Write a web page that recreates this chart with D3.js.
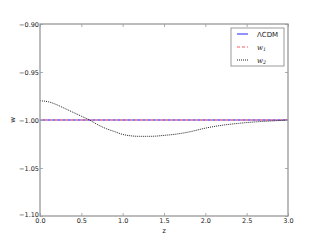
<!DOCTYPE html>
<html>
<head>
<meta charset="utf-8">
<script src="https://cdn.jsdelivr.net/npm/d3@7"></script>
<style>
  body { margin: 0; background: #fff; }
  svg { display: block; }
</style>
</head>
<body>
<div id="chart"></div>
<script>
// Data
const zVals = [0, 0.1, 0.2, 0.3, 0.4, 0.5, 0.6, 0.7, 0.8, 0.9, 1.0, 1.1, 1.2, 1.3, 1.4, 1.5, 1.6, 1.8, 2.0, 2.2, 2.4, 2.6, 2.8, 3.0];
const w2Vals = [-0.980, -0.981, -0.984, -0.988, -0.992, -0.996, -1.000, -1.005, -1.009, -1.012, -1.015, -1.0165, -1.017, -1.017, -1.0168, -1.016, -1.0152, -1.0125, -1.0085, -1.0055, -1.0035, -1.002, -1.001, -1.000];
const lcdmVals = zVals.map(() => -1.0);
const w1Vals = zVals.map(() => -1.0);
const xTicks = [0, 0.5, 1.0, 1.5, 2.0, 2.5, 3.0];
const yTicks = [-0.90, -0.95, -1.00, -1.05, -1.10];
const legendLabels = ["ΛCDM", "w1", "w2"];

function drawChart() {
  const width = 320, height = 240;
  const margin = { left: 40, right: 32, top: 24, bottom: 24 };
  const frameCol = "#999";

  const svg = d3.select("#chart").append("svg")
    .attr("width", width).attr("height", height);

  const x = d3.scaleLinear().domain([0, 3]).range([margin.left, width - margin.right]);
  const y = d3.scaleLinear().domain([-1.10, -0.90]).range([height - margin.bottom, margin.top]);

  // Series
  const series = [
    { vals: lcdmVals, color: "#5555ff", dash: null, width: 1.3 },
    { vals: w1Vals, color: "#ff9090", dash: "3,2", width: 1.5 },
    { vals: w2Vals, color: "#222", dash: "1,1", width: 1 }
  ];
  series.forEach((s) => {
    svg.append("path")
      .datum(zVals.map((z, i) => [z, s.vals[i]]))
      .attr("d", d3.line().curve(d3.curveMonotoneX).x((d) => x(d[0])).y((d) => y(d[1])))
      .attr("fill", "none")
      .attr("stroke", s.color)
      .attr("stroke-width", s.width)
      .attr("stroke-dasharray", s.dash);
  });

  // Axes with inward ticks
  const fontSize = 6.5;
  const xAxis = svg.append("g")
    .attr("transform", `translate(0,${height - margin.bottom})`)
    .call(d3.axisBottom(x).tickValues(xTicks).tickFormat(d3.format(".1f")).tickSize(-3).tickPadding(2));
  const xAxisTop = svg.append("g")
    .attr("transform", `translate(0,${margin.top})`)
    .call(d3.axisTop(x).tickValues(xTicks).tickFormat("").tickSize(-3));
  const yAxis = svg.append("g")
    .attr("transform", `translate(${margin.left},0)`)
    .call(d3.axisLeft(y).tickValues(yTicks).tickFormat((d) => d3.format(".2f")(d).replace("-", "\u2212")).tickSize(-3).tickPadding(1));
  const yAxisRight = svg.append("g")
    .attr("transform", `translate(${width - margin.right},0)`)
    .call(d3.axisRight(y).tickValues(yTicks).tickFormat("").tickSize(-3));

  [xAxis, xAxisTop, yAxis, yAxisRight].forEach((g) => {
    g.select(".domain").remove();
    g.selectAll(".tick line").attr("stroke", frameCol).attr("stroke-width", 0.8);
    g.selectAll("text")
      .attr("font-family", "DejaVu Sans")
      .attr("font-size", fontSize)
      .attr("fill", "#222");
  });
  // lowest y label sits a touch higher, as in the reference
  yAxis.selectAll(".tick text").filter((d) => d === -1.10).attr("dy", "0.1em");

  // Frame
  svg.append("rect")
    .attr("x", margin.left).attr("y", margin.top)
    .attr("width", width - margin.left - margin.right)
    .attr("height", height - margin.top - margin.bottom)
    .attr("fill", "none")
    .attr("stroke", frameCol)
    .attr("stroke-width", 1.3);

  // Axis labels
  svg.append("text")
    .attr("x", x(1.5)).attr("y", 233)
    .attr("text-anchor", "middle")
    .attr("font-family", "DejaVu Sans").attr("font-size", 7)
    .attr("fill", "#222")
    .text("z");
  svg.append("text")
    .attr("transform", `translate(15,${y(-1.0)}) rotate(-90)`)
    .attr("text-anchor", "middle")
    .attr("font-family", "DejaVu Sans").attr("font-size", 7)
    .attr("fill", "#222")
    .text("w");

  // Legend
  const lg = svg.append("g").attr("transform", "translate(231,28)");
  lg.append("rect")
    .attr("width", 53).attr("height", 38)
    .attr("fill", "#fff")
    .attr("stroke", frameCol).attr("stroke-width", 1);
  legendLabels.forEach((lab, i) => {
    const yy = 6 + i * 13;
    const s = series[i];
    lg.append("line")
      .attr("x1", 6).attr("x2", 17).attr("y1", yy).attr("y2", yy)
      .attr("stroke", s.color).attr("stroke-width", s.width)
      .attr("stroke-dasharray", s.dash);
    const t = lg.append("text")
      .attr("x", 26).attr("y", yy + 2.5)
      .attr("font-size", 7)
      .attr("fill", "#222");
    if (i === 0) {
      t.attr("font-family", "DejaVu Sans").text(lab);
    } else {
      t.attr("font-family", "DejaVu Serif").attr("font-style", "italic").text("w");
      t.append("tspan").attr("font-size", 4.8).attr("dy", 1.5).text(lab.slice(1));
    }
  });
}

window.onload = drawChart;
</script>
</body>
</html>
